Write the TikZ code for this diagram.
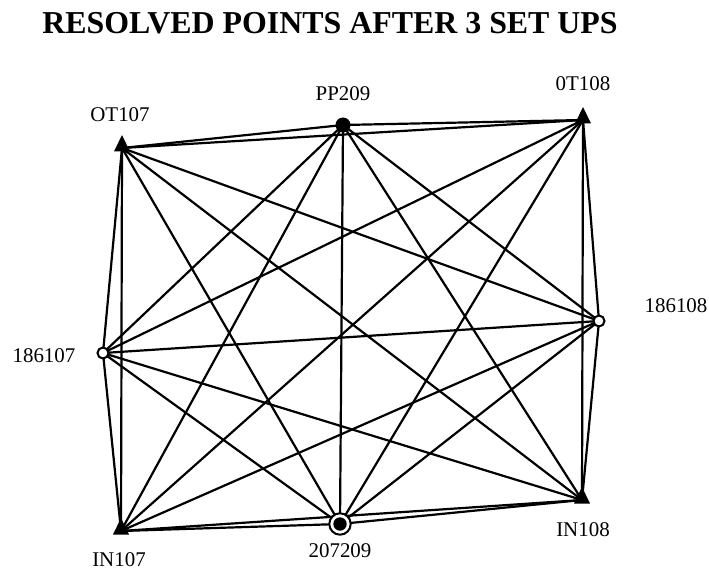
\documentclass[tikz,border=0pt]{standalone}
\usepackage{fontspec}
\setmainfont{Liberation Serif}
\begin{document}
\begin{tikzpicture}[x=1bp,y=-1bp,
  edge/.style={line width=2.2bp},
  lbl/.style={font=\fontsize{21}{24}\selectfont, inner sep=0pt, anchor=base},
  opencirc/.style={line width=2bp, fill=white}]
\useasboundingbox (0,0) rectangle (709,570);
\node[font=\bfseries\fontsize{32}{36}\selectfont, anchor=base, inner sep=0pt] (title) at (330,34) {RESOLVED POINTS AFTER 3 SET UPS};
% station coordinates
\coordinate (ot107) at (122,148);
\coordinate (pp209) at (343,125);
\coordinate (ot108) at (583,120);
\coordinate (n186107) at (103,353);
\coordinate (n186108) at (599,321);
\coordinate (in107) at (121,531);
\coordinate (s207209) at (340,524);
\coordinate (in108) at (582,500);
% all observations
\foreach \a/\b in {ot107/pp209,ot107/ot108,ot107/n186107,ot107/n186108,ot107/in107,ot107/s207209,ot107/in108,
  pp209/ot108,pp209/n186107,pp209/n186108,pp209/in107,pp209/s207209,pp209/in108,
  ot108/n186107,ot108/n186108,ot108/in107,ot108/s207209,ot108/in108,
  n186107/n186108,n186107/in107,n186107/s207209,n186107/in108,
  n186108/in107,n186108/s207209,n186108/in108,
  in107/s207209,in107/in108,s207209/in108}
  \draw[edge] (\a) -- (\b);
% markers
\foreach \p in {ot107,ot108,in107,in108}
  \fill (\p) ++(0,-13) -- ++(8,16.5) -- ++(-16,0) -- cycle;
\fill (pp209) circle (7.5);
\draw[opencirc] (n186107) circle (5.5);
\draw[opencirc] (n186108) circle (5.5);
\draw[opencirc] (s207209) circle (10.7);
\fill (s207209) circle (6.7);
% labels
\node[lbl] (lot107) at (120,122) {OT107};
\node[lbl] (lpp209) at (343,101) {PP209};
\node[lbl] (lot108) at (583,91) {0T108};
\node[lbl] (l186107) at (44,362) {186107};
\node[lbl] (l186108) at (676,312) {186108};
\node[lbl] (lin107) at (119,566) {IN107};
\node[lbl] (l207209) at (340,557) {207209};
\node[lbl] (lin108) at (583,536) {IN108};
\end{tikzpicture}
\end{document}
